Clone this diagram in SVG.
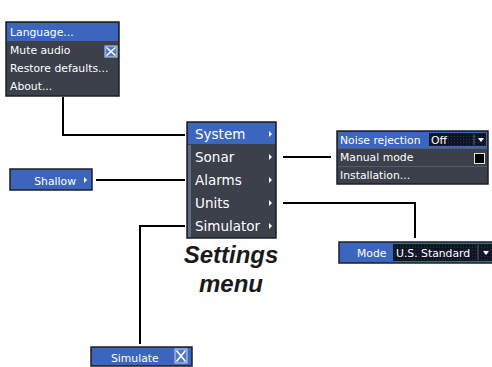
<svg xmlns="http://www.w3.org/2000/svg" width="492" height="367" viewBox="0 0 492 367">
<defs>
<style>
.menu{fill:#3b404b;stroke:#1c1f26;stroke-width:1.5}
.hl{fill:#3c66bd}
.t{font-family:"DejaVu Sans",Verdana,sans-serif;fill:#ffffff;font-size:10.8px}
.tb{font-family:"DejaVu Sans",Verdana,sans-serif;fill:#ffffff;font-size:13.5px}
.sep{stroke:#555b67;stroke-width:1}
.line{fill:none;stroke:#000000;stroke-width:2}
.arr{fill:#ffffff}
.cap{font-family:"Liberation Sans",Arial,sans-serif;font-weight:bold;font-style:italic;font-size:24px;fill:#1a1a1a;text-anchor:middle}
</style>
<pattern id="dots" width="3" height="3" patternUnits="userSpaceOnUse">
<rect width="3" height="3" fill="#0f1424"/>
<rect x="1" y="1" width="1" height="1" fill="#2a3250"/>
</pattern>
</defs>
<g id="connectors">
<polyline class="line" points="63,97 63,135 185,135"/>
<line class="line" x1="283" y1="157" x2="331" y2="157"/>
<line class="line" x1="96" y1="180" x2="185" y2="180"/>
<polyline class="line" points="283,203 415,203 415,238"/>
<polyline class="line" points="185,226 140,226 140,344"/>
</g>
<g id="system-submenu">
<rect class="menu" x="6" y="22" width="113" height="74"/>
<rect class="hl" x="7" y="23" width="111" height="18"/>
<text class="t" x="10" y="36">Language...</text>
<text class="t" x="10" y="54">Mute audio</text>
<rect x="105" y="46" width="12" height="11" fill="#4f78c8" stroke="#c8d4f0" stroke-width="1"/>
<path d="M106.5,47.5 L115.5,55.5 M115.5,47.5 L106.5,55.5" stroke="#ffffff" stroke-width="1.6"/>
<text class="t" x="10" y="72">Restore defaults...</text>
<text class="t" x="10" y="90">About...</text>
</g>
<g id="settings-menu">
<rect class="menu" x="187" y="122" width="89" height="116"/>
<rect x="188" y="145" width="3" height="92" fill="#5d6b8a"/>
<rect class="hl" x="188" y="123" width="87" height="21"/>
<text class="tb" x="195" y="139">System</text>
<text class="tb" x="195" y="162">Sonar</text>
<text class="tb" x="195" y="185">Alarms</text>
<text class="tb" x="195" y="208">Units</text>
<text class="tb" x="195" y="231">Simulator</text>
<path class="arr" d="M269,131 L272,134 L269,137 Z"/>
<path class="arr" d="M269,154 L272,157 L269,160 Z"/>
<path class="arr" d="M269,177 L272,180 L269,183 Z"/>
<path class="arr" d="M269,200 L272,203 L269,206 Z"/>
<path class="arr" d="M269,223 L272,226 L269,229 Z"/>
</g>
<g id="sonar-submenu">
<rect class="menu" x="337" y="131" width="151" height="53"/>
<rect class="hl" x="338" y="132" width="149" height="16"/>
<text class="t" x="340" y="144">Noise rejection</text>
<rect x="429" y="133" width="57" height="13" fill="url(#dots)"/>
<line x1="474" y1="134" x2="474" y2="145" stroke="#5a6070" stroke-width="1"/>
<text class="t" x="431" y="144">Off</text>
<path class="arr" d="M478,138 L484,138 L481,142 Z"/>
<line class="sep" x1="338" y1="148.5" x2="487" y2="148.5"/>
<text class="t" x="340" y="161">Manual mode</text>
<rect x="474.5" y="153.5" width="10" height="10" fill="#000000" stroke="#e0e0e0" stroke-width="1"/>
<line class="sep" x1="338" y1="166.5" x2="487" y2="166.5"/>
<text class="t" x="340" y="179">Installation...</text>
</g>
<g id="shallow">
<rect x="10" y="169" width="82" height="21" fill="#3c66bd" stroke="#1c1f26" stroke-width="1.5"/>
<text class="t" x="76" y="184.5" text-anchor="end" font-size="12.5px">Shallow</text>
<path class="arr" d="M84,177 L87,180 L84,183 Z"/>
</g>
<g id="mode">
<rect x="339" y="242" width="154" height="21" fill="#3c66bd" stroke="#1c1f26" stroke-width="1.5"/>
<text class="t" x="357" y="257" font-size="11.8px">Mode</text>
<rect x="393" y="244" width="99" height="17" fill="url(#dots)"/>
<text class="t" x="396" y="257" font-size="11.8px">U.S. Standard</text>
<line x1="478" y1="245" x2="478" y2="260" stroke="#5a6070" stroke-width="1"/>
<path class="arr" d="M483,251 L489,251 L486,255 Z"/>
</g>
<g id="simulate">
<rect x="91" y="347" width="101" height="19" fill="#3c66bd" stroke="#1c1f26" stroke-width="1.5"/>
<text class="t" x="111" y="361.5" font-size="12.3px">Simulate</text>
<rect x="175" y="349" width="12" height="14" fill="#4f78c8" stroke="#c8d4f0" stroke-width="1"/>
<path d="M176.5,350.5 L185.5,361.5 M185.5,350.5 L176.5,361.5" stroke="#ffffff" stroke-width="1.6"/>
</g>
<g id="caption">
<text class="cap" x="231" y="263">Settings</text>
<text class="cap" x="231" y="292">menu</text>
</g>
</svg>
